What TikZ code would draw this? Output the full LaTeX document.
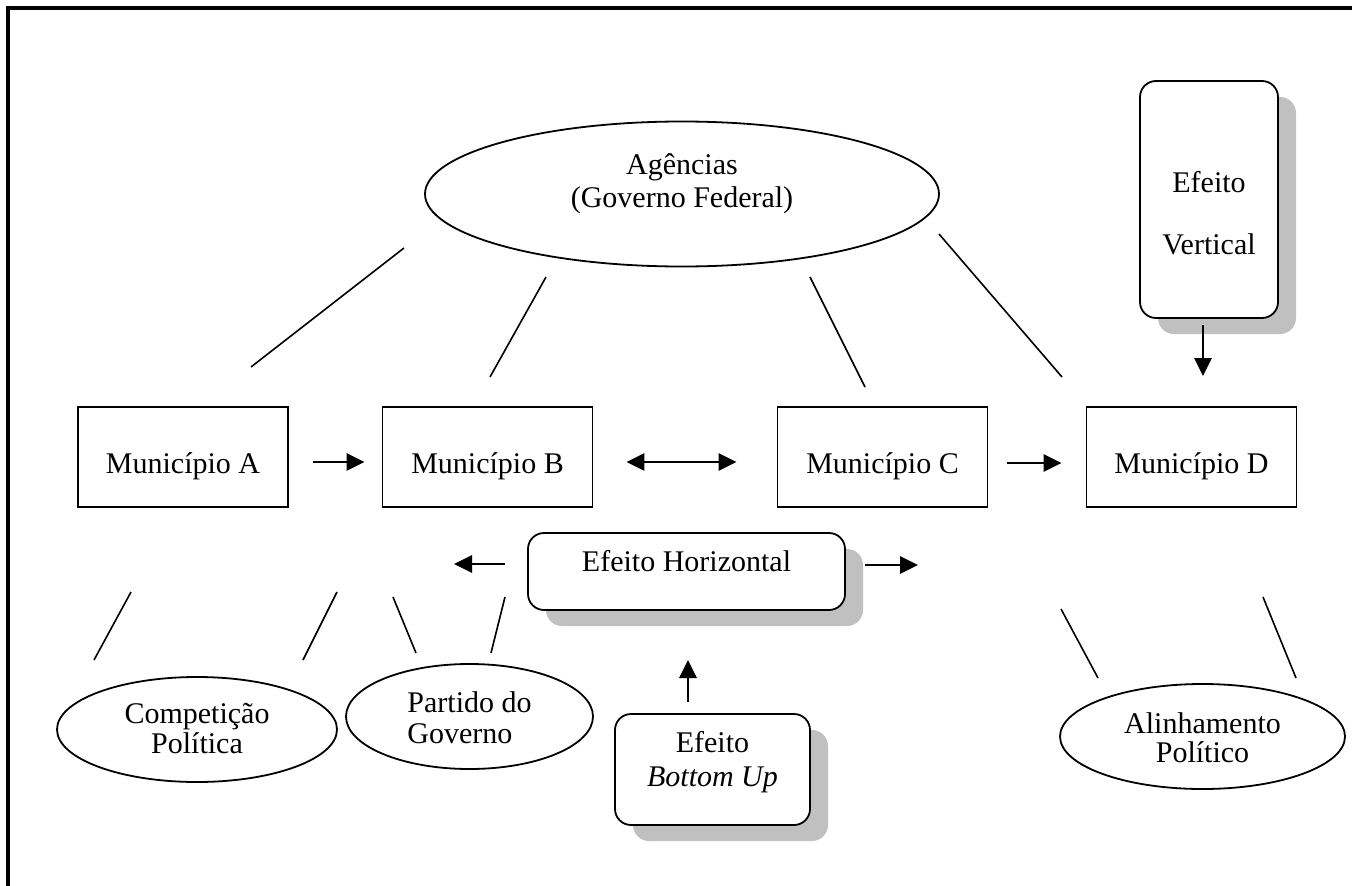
\documentclass[tikz,border=0pt]{standalone}
\usepackage{fontspec}
\setmainfont{Liberation Serif}
\usetikzlibrary{arrows.meta}
\usetikzlibrary{shapes.geometric}
\usetikzlibrary{shadows}
\definecolor{shadowgray}{RGB}{192,192,192}
\tikzset{
  every node/.style={font=\fontsize{30pt}{36pt}\selectfont},
  >={Triangle[length=18pt,width=17pt]},
  munbox/.style={draw, line width=1.8pt, minimum width=210pt, minimum height=100pt, inner sep=0pt, text height=36pt, text depth=4pt},
  effbox/.style={draw, line width=1.8pt, rounded corners=16pt, fill=white, inner sep=0pt, align=center,
    drop shadow={shadow xshift=18pt, shadow yshift=-16pt, fill=shadowgray, opacity=1}},
  oval/.style={draw, ellipse, line width=1.8pt, inner sep=0pt, align=center},
  arr/.style={line width=2.8pt, ->},
  link/.style={line width=1.6pt},
}

\begin{document}
\begin{tikzpicture}[x=1pt,y=-1pt]
  \useasboundingbox (0,0) rectangle (1352,886);
  \draw[line width=4pt] (8,886) |- (1352,8);

  % agencias and effects
  \node[oval, minimum width=514pt, minimum height=145pt, text height=30pt, text depth=4pt] (agencias) at (682,194) {Agências\\[-3pt](Governo Federal)};
  \node[effbox, minimum width=138pt, minimum height=237pt, text height=110pt, text depth=1pt] (vertical) at (1209,199.5) {Efeito\\[26pt]Vertical};
  \node[effbox, minimum width=317pt, minimum height=77pt, text height=10pt, text depth=11pt] (horizontal) at (686.5,571.5) {Efeito Horizontal};
  \node[effbox, minimum width=195pt, minimum height=111pt, text height=36pt, text depth=3pt] (bottomup) at (712.5,769.5) {Efeito\\[-2pt]\textit{Bottom Up}};

  % municipios
  \node[munbox] (munA) at (183,457) {Município A};
  \node[munbox] (munB) at (487.5,457) {Município B};
  \node[munbox] (munC) at (882.5,457) {Município C};
  \node[munbox] (munD) at (1191.5,457) {Município D};

  % factors
  \node[oval, minimum width=280pt, minimum height=105pt, text height=50pt, text depth=3pt] (competicao) at (197,729.5) {Competição\\[-6pt]Política};
  \node[oval, align=left, minimum width=247pt, minimum height=105pt, text height=56pt, text depth=3pt] (partido) at (469.5,716.5) {Partido do\\[-5pt]Governo};
  \node[oval, minimum width=285pt, minimum height=105pt, text height=54pt, text depth=3pt] (alinhamento) at (1202.5,736.5) {Alinhamento\\[-7pt]Político};

  \draw[arr, shorten <=24pt, shorten >=17pt] ([yshift=-5pt]munA.east) -- ([yshift=-5pt]munB.west);
  \draw[arr, <->, shorten <=33pt, shorten >=40pt] ([yshift=-5pt]munB.east) -- ([yshift=-5pt]munC.west);
  \draw[arr, shorten <=19pt, shorten >=24pt] ([yshift=-6pt]munC.east) -- ([yshift=-6pt]munD.west);

  \coordinate (vtip) at (1203,376);
  \coordinate (hleft) at (454,564);
  \coordinate (hright) at (918,565);
  \coordinate (btip) at (688,660);
  \draw[arr] ([xshift=-6pt,yshift=-6pt]vertical.south) -- (vtip);
  \draw[arr] ([xshift=-22pt,yshift=7.5pt]horizontal.west) -- (hleft);
  \draw[arr] ([xshift=19pt,yshift=6.5pt]horizontal.east) -- (hright);
  \draw[arr] ([xshift=-24.5pt,yshift=11pt]bottomup.north) -- (btip);

  % loose links
  \foreach \xa/\ya/\xb/\yb [count=\i] in {404/248/251/367, 546/277/490/377, 810/277/865/387, 939/234/1062/377,
      131/592/94/660, 337/592/303/660, 393/597/416/653, 505/597/491/653, 1061/609/1098/678, 1263/597/1296/678}{
    \coordinate (l\i s) at (\xa,\ya);
    \coordinate (l\i e) at (\xb,\yb);
    \draw[link] (l\i s) -- (l\i e);
  }
\end{tikzpicture}
\end{document}
